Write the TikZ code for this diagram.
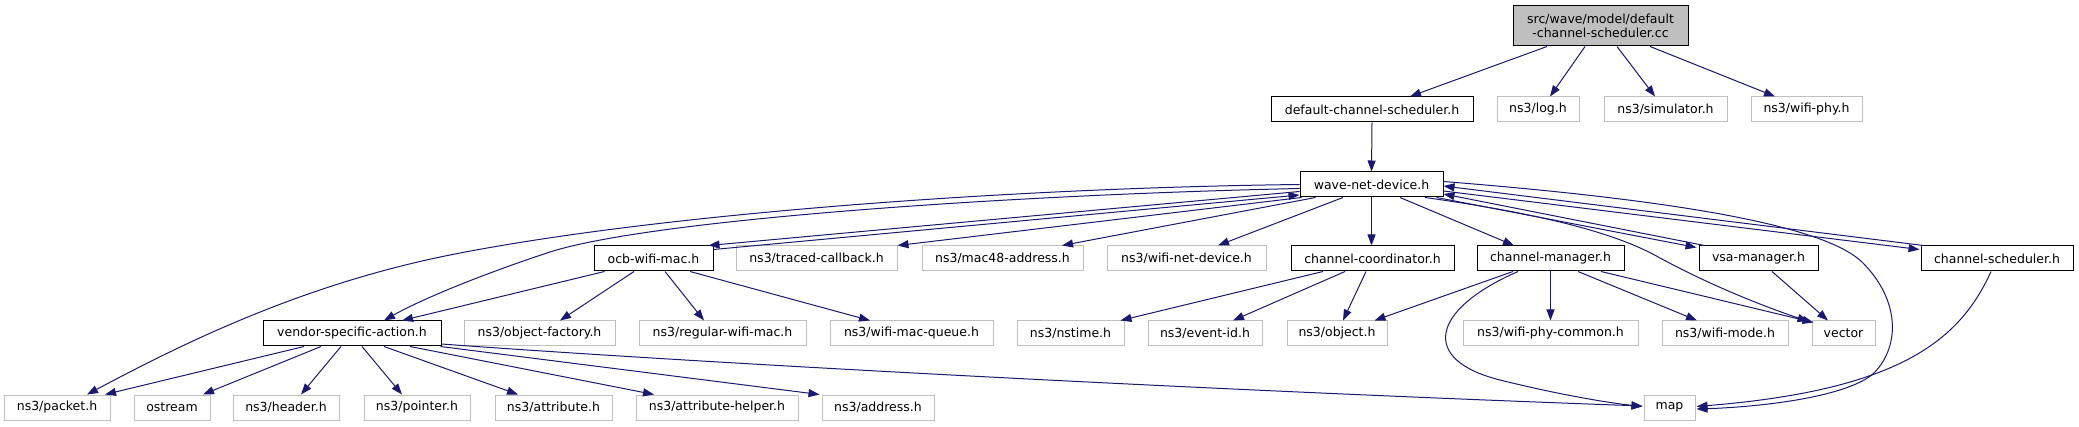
\documentclass[tikz,border=0pt]{standalone}
\usepackage{fontspec}
\setmainfont{DejaVu Sans}
\usetikzlibrary{arrows.meta,calc}
\definecolor{edgeblue}{RGB}{25,25,112}
\definecolor{extgray}{RGB}{191,191,191}
\begin{document}
\begin{tikzpicture}[x=1pt,y=-1pt,
  box/.style={draw, line width=1pt, fill=white, inner sep=0pt, minimum height=25pt,
     font=\fontsize{12.5}{14}\selectfont, text=black},
  docbox/.style={box, draw=black},
  extbox/.style={box, draw=extgray},
  topbox/.style={box, draw=black, fill=extgray, minimum height=40pt, align=center,
     font=\fontsize{12.5}{14.5}\selectfont},
  inc/.style={draw=edgeblue, line width=1pt, -{Triangle[length=11pt,width=8pt]}}
]
\useasboundingbox (0,0) rectangle (2079,427);

% row 1
\node[topbox, minimum width=175pt] (top) at (1600.5,26) {src/wave/model/default\\-channel-scheduler.cc};
% row 2
\node[docbox, minimum width=202pt] (dcsh) at (1372,109.5) {default-channel-scheduler.h};
\node[extbox, minimum width=82pt] (log) at (1538,109.5) {ns3/log.h};
\node[extbox, minimum width=123pt] (sim) at (1665.5,109.5) {ns3/simulator.h};
\node[extbox, minimum width=111pt] (wphy) at (1806.5,109.5) {ns3/wifi-phy.h};
% row 3
\node[docbox, minimum width=143pt] (wave) at (1371.5,184.5) {wave-net-device.h};
% row 4
\node[docbox, minimum width=119pt] (ocb) at (653.5,258.5) {ocb-wifi-mac.h};
\node[extbox, minimum width=161pt] (trac) at (816.5,258.5) {ns3/traced-callback.h};
\node[extbox, minimum width=161pt] (mac48) at (1002.5,258.5) {ns3/mac48-address.h};
\node[extbox, minimum width=159pt] (wnd) at (1186.5,258.5) {ns3/wifi-net-device.h};
\node[docbox, minimum width=163pt] (ccoord) at (1372.5,258.5) {channel-coordinator.h};
\node[docbox, minimum width=147pt] (cman) at (1550.5,258.5) {channel-manager.h};
\node[docbox, minimum width=119pt] (vsam) at (1758.5,258.5) {vsa-manager.h};
\node[docbox, minimum width=152pt] (csch) at (1997,258.5) {channel-scheduler.h};
% row 5
\node[docbox, minimum width=178pt] (vsa) at (352,333.5) {vendor-specific-action.h};
\node[extbox, minimum width=151pt] (ofac) at (539.5,333.5) {ns3/object-factory.h};
\node[extbox, minimum width=167pt] (rwm) at (722.5,333.5) {ns3/regular-wifi-mac.h};
\node[extbox, minimum width=163pt] (wmq) at (911.5,333.5) {ns3/wifi-mac-queue.h};
\node[extbox, minimum width=107pt] (nst) at (1070.5,333.5) {ns3/nstime.h};
\node[extbox, minimum width=114pt] (evid) at (1205,333.5) {ns3/event-id.h};
\node[extbox, minimum width=100pt] (obj) at (1337,333.5) {ns3/object.h};
\node[extbox, minimum width=175pt] (wpc) at (1550.5,333.5) {ns3/wifi-phy-common.h};
\node[extbox, minimum width=126pt] (wmode) at (1725,333.5) {ns3/wifi-mode.h};
\node[extbox, minimum width=63pt] (vec) at (1843.5,333.5) {vector};
% row 6
\node[extbox, minimum width=106pt] (pkt) at (57,407.5) {ns3/packet.h};
\node[extbox, minimum width=76pt] (ost) at (172,407.5) {ostream};
\node[extbox, minimum width=106pt] (hdr) at (286,407.5) {ns3/header.h};
\node[extbox, minimum width=106pt] (ptr) at (417,407.5) {ns3/pointer.h};
\node[extbox, minimum width=117pt] (attr) at (553.5,407.5) {ns3/attribute.h};
\node[extbox, minimum width=162pt] (ahelp) at (717,407.5) {ns3/attribute-helper.h};
\node[extbox, minimum width=112pt] (addr) at (878,407.5) {ns3/address.h};
\node[extbox, minimum width=51pt] (map) at (1669.5,407.5) {map};

% top node edges
\draw[inc] ($(top.south)+(-53.5,0)$) -- ($(dcsh.north)+(38,0)$);
\draw[inc] ($(top.south)+(-15.5,0)$) -- ($(log.north)+(12,0)$);
\draw[inc] ($(top.south)+(16.5,0)$) -- ($(sim.north)+(-10.5,0)$);
\draw[inc] ($(top.south)+(49.5,0)$) -- ($(wphy.north)+(-31.5,0)$);
\draw[inc] (dcsh.south) -- (wave.north);

% wave-net-device edges
\draw[inc] (wave.west) .. controls (1000,188) and (650,215) .. (450,255)
   .. controls (300,285) and (180,345) .. ($(pkt.north)+(30,0)$);
\draw[inc] ($(wave.west)+(0,4)$) .. controls (1000,195) and (650,220) .. (550,252)
   .. controls (480,275) and (420,300) .. ($(vsa.north)+(32,0)$);
\draw[inc] ($(wave.west)+(0,7)$) -- ($(ocb.north east)+(-5,0)$);
\draw[inc] ($(ocb.north east)+(0,4)$) -- ($(wave.west)+(0,10.5)$);
\draw[inc] ($(wave.south west)+(2,0)$) -- (trac.north east);
\draw[inc] ($(wave.south west)+(16,0)$) -- ($(mac48.north)+(59.5,0)$);
\draw[inc] ($(wave.south)+(-28.5,0)$) -- ($(wnd.north)+(31.5,0)$);
\draw[inc] (wave.south) -- (wave.south |- ccoord.north);
\draw[inc] ($(wave.south)+(28.5,0)$) -- ($(cman.north)+(-36.5,0)$);
\draw[inc] ($(wave.south east)+(-7,0)$) -- ($(vsam.north west)+(-2,2)$);
\draw[inc] ($(vsam.north west)+(6,0)$) -- ($(wave.east)+(0,9.5)$);
\draw[inc] ($(wave.east)+(0,6.5)$) -- ($(csch.north west)+(-1,4)$);
\draw[inc] ($(csch.north west)+(3,0)$) -- ($(wave.east)+(0,1.5)$);
\draw[inc] ($(wave.south)+(53.5,0)$) .. controls (1550,215) and (1620,235) .. (1660,258)
   .. controls (1710,285) and (1760,305) .. ($(vec.north west)+(-3,1)$);
\draw[inc] ($(wave.east)+(0,-3)$) .. controls (1650,198) and (1820,222) .. (1862,262)
   .. controls (1900,300) and (1900,345) .. (1875,372)
   .. controls (1850,397) and (1760,407) .. ($(map.east)+(1,1.5)$);

% ocb-wifi-mac edges
\draw[inc] ($(ocb.south west)+(11,0)$) -- ($(vsa.north)+(50,0)$);
\draw[inc] ($(ocb.south)+(-19.5,0)$) -- ($(ofac.north)+(20.5,0)$);
\draw[inc] ($(ocb.south)+(11.5,0)$) -- ($(rwm.north)+(-18.5,0)$);
\draw[inc] ($(ocb.south)+(36.5,0)$) -- ($(wmq.north)+(-41.5,0)$);

% channel-coordinator edges
\draw[inc] ($(ccoord.south)+(-49.5,0)$) -- ($(nst.north east)+(-4,0)$);
\draw[inc] ($(ccoord.south)+(-27.5,0)$) -- ($(evid.north)+(28,0)$);
\draw[inc] ($(ccoord.south)+(-6.5,0)$) -- ($(obj.north)+(6,0)$);

% channel-manager edges
\draw[inc] ($(cman.south)+(-37.5,0)$) -- ($(obj.north east)+(-13,0)$);
\draw[inc] (cman.south) -- (wpc.north);
\draw[inc] ($(cman.south)+(27.5,0)$) -- ($(wmode.north)+(-28,0)$);
\draw[inc] ($(cman.south)+(50.5,0)$) -- ($(vec.north west)+(2,2)$);
\draw[inc] ($(cman.south)+(-32.5,0)$) .. controls (1430,310) and (1420,360) .. (1500,380)
   .. controls (1560,395) and (1610,403) .. ($(map.west)+(-1,-1)$);

% vsa-manager and channel-scheduler edges
\draw[inc] ($(vsam.south)+(13.5,0)$) -- ($(vec.north)+(-15.5,0)$);
\draw[inc] ($(csch.south)+(-6,0)$) .. controls (1960,340) and (1900,390) .. ($(map.east)+(1,-1)$);

% vendor-specific-action edges
\draw[inc] ($(vsa.south)+(-48,0)$) -- ($(pkt.north)+(48,0)$);
\draw[inc] ($(vsa.south)+(-31,0)$) -- ($(ost.north)+(31,0)$);
\draw[inc] ($(vsa.south)+(-11,0)$) -- ($(hdr.north)+(15,0)$);
\draw[inc] ($(vsa.south)+(10,0)$) -- ($(ptr.north)+(-15,0)$);
\draw[inc] ($(vsa.south)+(32,0)$) -- ($(attr.north)+(-35.5,0)$);
\draw[inc] ($(vsa.south)+(58,0)$) -- ($(ahelp.north)+(-63,0)$);
\draw[inc] ($(vsa.south east)+(-1,0)$) -- ($(addr.north west)+(-2,0)$);
\draw[inc] ($(vsa.east)+(0,10.5)$) .. controls (700,363) and (1200,390) .. ($(map.west)+(-1,-1.5)$);
\end{tikzpicture}
\end{document}
